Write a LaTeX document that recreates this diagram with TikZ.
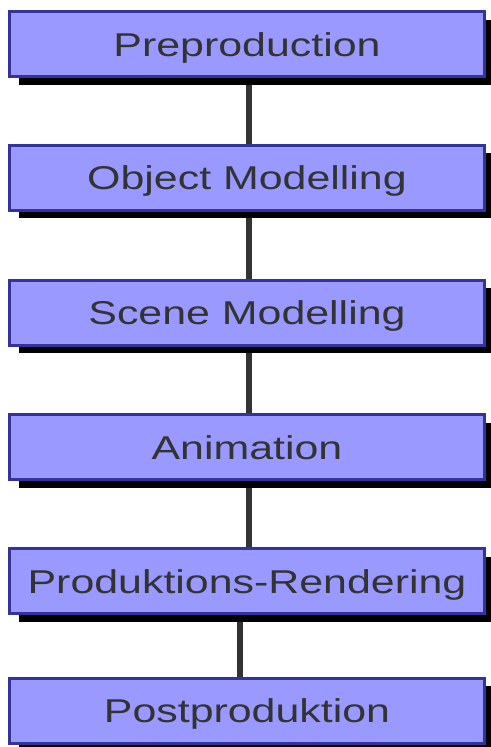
\documentclass[tikz,border=0pt]{standalone}
\usepackage{fontspec}
\usepackage{graphicx}
\setmainfont{Liberation Sans}
\usetikzlibrary{shadows, backgrounds}
\definecolor{boxfill}{HTML}{9999FF}
\definecolor{boxline}{HTML}{333399}
\definecolor{ink}{HTML}{333333}
\newcommand{\wide}[1]{\scalebox{1.3}[1]{#1}}

\begin{document}
\begin{tikzpicture}[x=1pt, y=1pt,
    stage/.style={draw=boxline, fill=boxfill, line width=3pt, text=ink,
      minimum width=475pt, minimum height=65pt, inner sep=0pt,
      text height=24pt, text depth=0pt, font=\fontsize{33}{36}\selectfont,
      drop shadow={shadow xshift=9pt, shadow yshift=-8pt, fill=black, opacity=1}},
    link/.style={draw=ink, line width=6pt}]
  \useasboundingbox (0,0) rectangle (490,-747);
  % --- stages ---
  \node[stage] (pre)  at (247,-44)    {\wide{Preproduction}};
  \node[stage] (obj)  at (247,-177.5) {\wide{Object Modelling}};
  \node[stage] (scn)  at (247,-312.5) {\wide{Scene Modelling}};
  \node[stage] (anim) at (247,-447)   {\wide{Animation}};
  \node[stage] (rend) at (247,-581)   {\wide{Produktions-Rendering}};
  \node[stage] (post) at (247,-710.5) {\wide{Postproduktion}};
  % --- connectors ---
  \begin{scope}[on background layer]
    \draw[link] ([xshift=2pt]pre.south)  -- ([xshift=2pt]obj.north);
    \draw[link] ([xshift=2pt]obj.south)  -- ([xshift=2pt]scn.north);
    \draw[link] ([xshift=2pt]scn.south)  -- ([xshift=2pt]anim.north);
    \draw[link] ([xshift=2pt]anim.south) -- ([xshift=2pt]rend.north);
    \draw[link] ([xshift=-7pt]rend.south) -- ([xshift=-7pt]post.north);
  \end{scope}
\end{tikzpicture}
\end{document}
